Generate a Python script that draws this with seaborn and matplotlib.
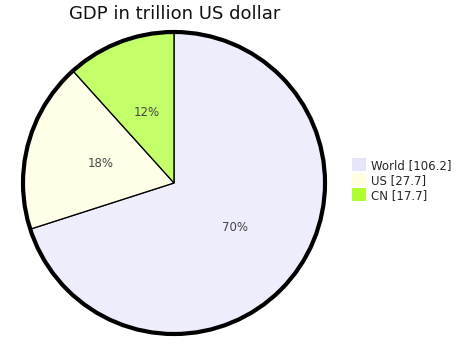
import matplotlib
matplotlib.use('Agg')
import matplotlib.pyplot as plt
import matplotlib.patches as mpatches
from matplotlib.colors import to_rgba
import seaborn as sns

# --- datos ---
paises = ['World', 'US', 'CN']
pib = [106.2, 27.7, 17.7]
colores = ['#E6E6FA', '#FFFFE0', '#ADFF2F']

sns.set_theme(style='white')
plt.rcParams['font.family'] = ['DejaVu Sans']

fig = plt.figure(figsize=(4.62, 3.57), dpi=100)
fig.patch.set_facecolor('white')
ax = fig.add_axes([0.0498, 0.0644, 0.6537, 0.846])

# relleno del pastel un poco más claro que la leyenda
colores_pastel = [to_rgba(c, 0.72) for c in colores]
wedges, textos, pcts = ax.pie(
    pib,
    colors=colores_pastel,
    startangle=90,
    counterclock=False,
    autopct='%1.0f%%',
    pctdistance=0.5,
    wedgeprops=dict(edgecolor='black', linewidth=0.9),
    textprops=dict(color='#444444', fontsize=8.5),
)

# borde exterior grueso
ax.add_patch(mpatches.Circle((0, 0), 1, fill=False, edgecolor='black', linewidth=3, clip_on=False))
ax.set_xlim(-1, 1)
ax.set_ylim(-1, 1)
ax.set_aspect('equal')
ax.axis('off')

fig.text(175 / 462, 1 - 14 / 357, 'GDP in trillion US dollar', ha='center', va='center',
         fontsize=13, color='#111111')

handles = [mpatches.Patch(facecolor=c, edgecolor='none') for c in colores]
etiquetas = [f'{p} [{v}]' for p, v in zip(paises, pib)]
fig.legend(handles, etiquetas, loc='center left', bbox_to_anchor=(344 / 462, 1 - 180 / 357),
           frameon=False, fontsize=8.5, handlelength=1.2, handleheight=1.3,
           handletextpad=0.35, labelspacing=0.15, borderpad=0.2)

plt.savefig('out.png', dpi=100, facecolor=fig.get_facecolor())
